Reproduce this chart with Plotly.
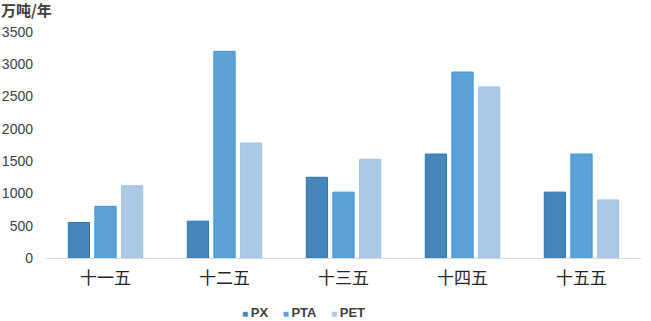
import plotly.graph_objects as go

categories = ["十一五", "十二五", "十三五", "十四五", "十五五"]
px_vals = [550, 570, 1250, 1610, 1020]
pta_vals = [800, 3200, 1020, 2880, 1610]
pet_vals = [1120, 1780, 1530, 2650, 900]
series_names = ["PX", "PTA", "PET"]
fills = ["#4686ba", "#5ca2d8", "#abc8e6"]
borders = ["#2c74b3", "#3c96d6", "#a3c3e4"]
y_ticks = [0, 500, 1000, 1500, 2000, 2500, 3000, 3500]
unit_label = "万吨/年"

fig = go.Figure()
for name, vals, fc, bc in zip(series_names, [px_vals, pta_vals, pet_vals], fills, borders):
    fig.add_trace(go.Bar(name=name, x=categories, y=vals,
                         marker=dict(color=fc, line=dict(color=bc, width=1))))

fig.update_layout(
    width=651, height=321,
    margin=dict(l=46, r=10, t=32, b=63, autoexpand=False),
    plot_bgcolor="white", paper_bgcolor="white",
    barmode="group", bargap=0.33, bargroupgap=0.2,
    font=dict(family="Liberation Sans, Arial, sans-serif", color="#404040"),
    showlegend=False,
    xaxis=dict(showline=True, linecolor="#d9d9d9", linewidth=1, ticks="",
               tickfont=dict(size=17, color="#262626", family="Noto Sans CJK SC"),
               ticklabelstandoff=5, showgrid=False, automargin=False),
    yaxis=dict(range=[0, 3500], tickvals=y_ticks, showgrid=False, zeroline=False,
               showline=False, ticks="", ticklabelstandoff=12, automargin=False,
               tickfont=dict(size=14, color="#404040")),
)

# legend row built from the series names and colours
parts = []
for name, fc in zip(series_names, fills):
    parts.append(f'<span style="color:{fc};font-size:10px">■ </span>'
                 f'<b>{name}</b>')
legend_text = "    ".join(parts)
fig.add_annotation(text=legend_text, xref="paper", yref="paper", x=(303 - 46) / 595,
                   y=-54 / 226, xanchor="center", yanchor="middle", showarrow=False,
                   font=dict(size=13, color="#404040", family="Liberation Sans, Arial"))

fig.add_annotation(text=f"<b>{unit_label}</b>", xref="paper", yref="paper", x=0, y=1,
                   xanchor="left", yanchor="bottom", showarrow=False, xshift=-47, yshift=10,
                   font=dict(size=15, color="#404040", family="Noto Sans CJK SC"))

fig.write_html("out.html")
